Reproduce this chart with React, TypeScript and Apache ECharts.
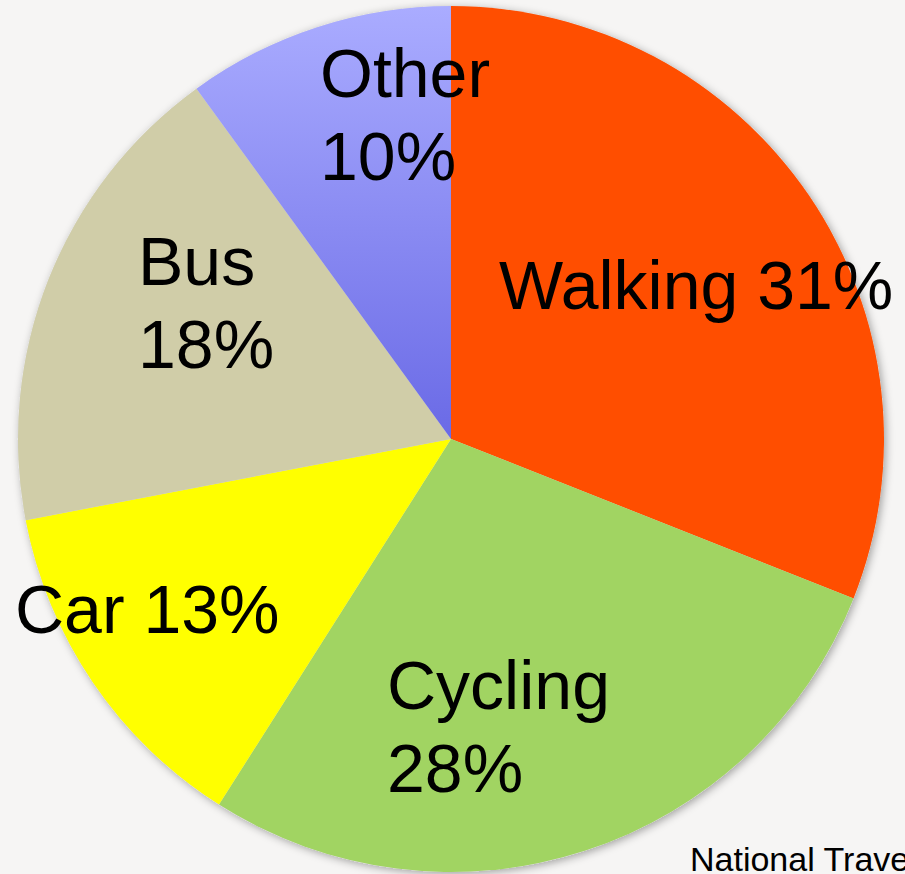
import React, { useEffect, useRef } from "react";
import * as echarts from "echarts";

const categories = ["Walking", "Cycling", "Car", "Bus", "Other"];
const shares = [31, 28, 13, 18, 10];
const labelTexts = ["Walking 31%", "Cycling\n28%", "Car 13%", "Bus\n18%", "Other\n10%"];
const sourceText = "National Travel Survey";

const sliceColors: any[] = [
  "#FF4E00",
  "#A1D462",
  "#FFFF00",
  "#D0CDA8",
  new echarts.graphic.LinearGradient(0, 0, 0, 1, [
    { offset: 0, color: "#AAACFF" },
    { offset: 1, color: "#6A6AE6" },
  ]),
];
// label anchor (left edge, vertical middle) for each slice
const labelAnchors = [
  [499, 285],
  [387, 726],
  [15, 609],
  [138, 302],
  [320, 114],
];

export default function App() {
  const ref = useRef<HTMLDivElement>(null);
  useEffect(() => {
    if (!ref.current) return;
    const chart = echarts.init(ref.current, null, { renderer: "svg" });
    const font = "'Liberation Sans', Arial, sans-serif";
    chart.setOption({
      animation: false,
      backgroundColor: "#F6F5F4",
      title: {
        text: sourceText,
        left: 690,
        top: 842,
        padding: 0,
        textStyle: { fontSize: 34, fontWeight: "normal", color: "#000", fontFamily: font },
      },
      series: [
        {
          type: "pie",
          silent: true,
          center: [451, 439],
          radius: 433,
          z: 1,
          label: { show: false },
          labelLine: { show: false },
          itemStyle: {
            color: "#DDDDDD",
            shadowBlur: 8,
            shadowColor: "rgba(0,0,0,0.35)",
            shadowOffsetX: 2,
            shadowOffsetY: 2,
          },
          data: [{ value: 1, name: "shadow" }],
        },
        {
          type: "pie",
          center: [451, 439],
          radius: 433,
          startAngle: 90,
          clockwise: true,
          z: 2,
          labelLine: { show: false },
          label: {
            show: true,
            position: "inside",
            fontSize: 68,
            lineHeight: 83,
            color: "#000",
            fontFamily: font,
            align: "left",
            verticalAlign: "middle",
            formatter: (p: any) => labelTexts[p.dataIndex],
          },
          labelLayout: (p: any) => ({
            x: labelAnchors[p.dataIndex][0],
            y: labelAnchors[p.dataIndex][1],
            align: "left",
            verticalAlign: "middle",
          }),
          data: categories.map((c, i) => ({
            name: c,
            value: shares[i],
            itemStyle: { color: sliceColors[i] },
          })),
        },
      ],
    });
    return () => chart.dispose();
  }, []);
  return (
    <div
      ref={ref}
      style={{ position: "fixed", left: 0, top: 0, width: 905, height: 874 }}
    />
  );
}
